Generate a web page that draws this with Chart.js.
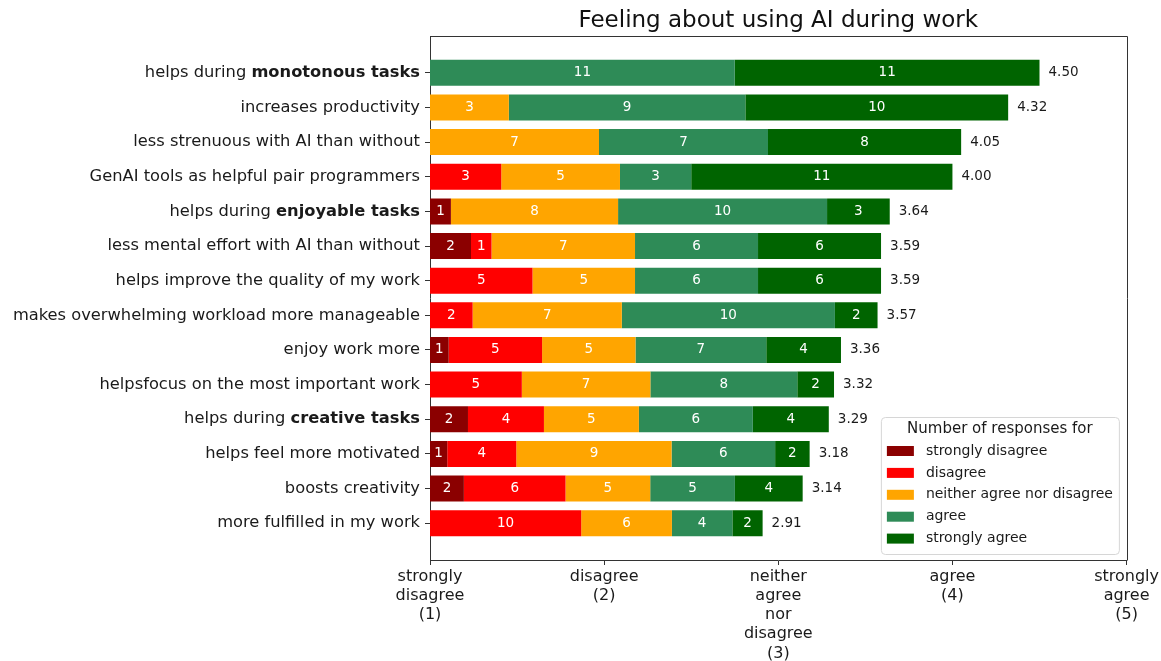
<!DOCTYPE html>
<html><head><meta charset="utf-8">
<script src="https://cdn.jsdelivr.net/npm/chart.js@4"></script>
<style>html,body{margin:0;padding:0;background:#fff}#wrap{width:1161px;height:661px}</style>
</head><body><div id="wrap"><canvas id="c" width="1161" height="661"></canvas></div>
<script>
const categories = [
  "helps during **monotonous tasks**",
  "increases productivity",
  "less strenuous with AI than without",
  "GenAI tools as helpful pair programmers",
  "helps during **enjoyable tasks**",
  "less mental effort with AI than without",
  "helps improve the quality of my work",
  "makes overwhelming workload more manageable",
  "enjoy work more",
  "helpsfocus on the most important work",
  "helps during **creative tasks**",
  "helps feel more motivated",
  "boosts creativity",
  "more fulfilled in my work"
];
const responseLevels = ["strongly disagree", "disagree", "neither agree nor disagree", "agree", "strongly agree"];
const stronglyDisagree = [0, 0, 0, 0, 1, 2, 0, 0, 1, 0, 2, 1, 2, 0];
const disagree         = [0, 0, 0, 3, 0, 1, 5, 2, 5, 5, 4, 4, 6, 10];
const neither          = [0, 3, 7, 5, 8, 7, 5, 7, 5, 7, 5, 9, 5, 6];
const agree            = [11, 9, 7, 3, 10, 6, 6, 10, 7, 8, 6, 6, 5, 4];
const stronglyAgree    = [11, 10, 8, 11, 3, 6, 6, 2, 4, 2, 4, 2, 4, 2];
const meanScores = [4.50, 4.32, 4.05, 4.00, 3.64, 3.59, 3.59, 3.57, 3.36, 3.32, 3.29, 3.18, 3.14, 2.91];
const xTickLabels = [
  ["strongly", "disagree", "(1)"],
  ["disagree", "(2)"],
  ["neither", "agree", "nor", "disagree", "(3)"],
  ["agree", "(4)"],
  ["strongly", "agree", "(5)"]
];
const chartTitle = "Feeling about using AI during work";
const legendTitle = "Number of responses for";
const colors = ["#8b0000", "#ff0000", "#ffa500", "#2e8b57", "#006400"];

const FONT = "'DejaVu Sans', sans-serif";
const counts = [stronglyDisagree, disagree, neither, agree, stronglyAgree];
const totals = categories.map((_, i) => counts.reduce((s, a) => s + a[i], 0));

const datasets = counts.map((arr, k) => {
  const data = [];
  arr.forEach((c, i) => {
    if (!c) return;
    const before = counts.slice(0, k).reduce((s, a) => s + a[i], 0);
    const span = meanScores[i] - 1;
    data.push({ y: i, x: [1 + before / totals[i] * span, 1 + (before + c) / totals[i] * span], n: c });
  });
  return { label: responseLevels[k], backgroundColor: colors[k], borderWidth: 0, data };
});

const customDraw = {
  id: 'customDraw',
  afterDatasetsDraw(chart) {
    const ctx = chart.ctx;
    const xS = chart.scales.x, yS = chart.scales.y;
    ctx.save();
    ctx.font = "13.5px " + FONT;
    ctx.textAlign = 'center';
    ctx.textBaseline = 'middle';
    ctx.fillStyle = '#ffffff';
    chart.data.datasets.forEach((ds, k) => {
      const meta = chart.getDatasetMeta(k);
      meta.data.forEach((el, j) => {
        ctx.fillText(String(ds.data[j].n), (el.x + el.base) / 2, el.y);
      });
    });
    ctx.fillStyle = '#1a1a1a';
    ctx.textAlign = 'left';
    meanScores.forEach((m, i) => {
      ctx.fillText(m.toFixed(2), xS.getPixelForValue(m) + 9, yS.getPixelForValue(i));
    });
    ctx.restore();
  },
  afterDraw(chart) {
    const ctx = chart.ctx;
    const ca = chart.chartArea;
    const yS = chart.scales.y;
    ctx.save();
    ctx.strokeStyle = '#333';
    ctx.lineWidth = 1;
    ctx.beginPath();
    ctx.moveTo(Math.round(ca.left) + 0.5, Math.round(ca.top) + 0.5);
    ctx.lineTo(Math.round(ca.right) + 0.5, Math.round(ca.top) + 0.5);
    ctx.lineTo(Math.round(ca.right) + 0.5, Math.round(ca.bottom) + 0.5);
    ctx.stroke();
    ctx.fillStyle = '#1a1a1a';
    ctx.textAlign = 'left';
    ctx.textBaseline = 'middle';
    const LF = '16.3px ' + FONT;
    categories.forEach((lab, i) => {
      const parts = lab.split('**').map((t, idx) => ({ t, b: idx % 2 === 1 })).filter(p => p.t);
      let total = 0;
      parts.forEach(p => { ctx.font = (p.b ? 'bold ' : '') + LF; p.w = ctx.measureText(p.t).width; total += p.w; });
      let x = ca.left - 10 - total;
      const y = yS.getPixelForValue(i);
      parts.forEach(p => { ctx.font = (p.b ? 'bold ' : '') + LF; ctx.fillText(p.t, x, y); x += p.w; });
    });
    ctx.font = '14px ' + FONT;
    let maxW = 0;
    responseLevels.forEach(l => { maxW = Math.max(maxW, ctx.measureText(l).width); });
    ctx.font = '15px ' + FONT;
    maxW = Math.max(maxW, ctx.measureText(legendTitle).width - 40);
    const w = 45 + maxW + 6, h = 137;
    const right = ca.right - 7.7, bottom = ca.bottom - 6;
    const left = right - w, top = bottom - h;
    ctx.beginPath();
    if (ctx.roundRect) ctx.roundRect(left + 0.5, top + 0.5, w, h, 4); else ctx.rect(left + 0.5, top + 0.5, w, h);
    ctx.fillStyle = 'rgba(255,255,255,0.85)';
    ctx.fill();
    ctx.strokeStyle = '#d6d6d6';
    ctx.stroke();
    ctx.fillStyle = '#1a1a1a';
    ctx.textAlign = 'center';
    ctx.font = '15px ' + FONT;
    ctx.fillText(legendTitle, left + w / 2, top + 12);
    ctx.textAlign = 'left';
    ctx.font = '14px ' + FONT;
    responseLevels.forEach((l, i) => {
      const cy = top + 34 + i * 21.9;
      ctx.fillStyle = colors[i];
      ctx.fillRect(left + 6, cy - 5, 27, 10);
      ctx.fillStyle = '#1a1a1a';
      ctx.fillText(l, left + 45, cy);
    });
    ctx.restore();
  }
};

new Chart(document.getElementById('c'), {
  type: 'bar',
  data: { datasets },
  options: {
    indexAxis: 'y',
    responsive: false,
    animation: false,
    layout: { padding: { left: 0, right: 34, top: 0, bottom: 0 } },
    datasets: { bar: { grouped: false, categoryPercentage: 0.75, barPercentage: 1 } },
    plugins: {
      legend: { display: false },
      tooltip: { enabled: false },
      title: {
        display: true, text: chartTitle, fullSize: false,
        font: { family: FONT, size: 23, weight: 'normal' }, color: '#111',
        padding: { top: 7.5, bottom: 0.9 }
      }
    },
    scales: {
      x: {
        type: 'linear', min: 1, max: 5, position: 'bottom', offset: false,
        afterBuildTicks: s => { s.ticks = xTickLabels.map((_, i) => ({ value: i + 1 })); },
        ticks: {
          callback: (v, idx) => xTickLabels[idx],
          font: { family: FONT, size: 16 }, color: '#1a1a1a', padding: 2,
          maxRotation: 0, minRotation: 0, autoSkip: false
        },
        grid: { offset: false, drawOnChartArea: false, drawTicks: true, tickLength: 5, color: '#333', lineWidth: 1 },
        border: { display: true, color: '#333', width: 1 },
        afterFit: s => { s.height = 101; }
      },
      y: {
        type: 'linear', reverse: true, min: -1.0625, max: 14.0625, offset: false,
        afterBuildTicks: s => { s.ticks = categories.map((_, i) => ({ value: i })); },
        ticks: { display: true, color: 'rgba(0,0,0,0)', callback: () => '', autoSkip: false },
        grid: { offset: false, drawOnChartArea: false, drawTicks: true, tickLength: 5, color: '#333', lineWidth: 1 },
        border: { display: true, color: '#333', width: 1 },
        afterFit: s => { s.width = 430; }
      }
    }
  },
  plugins: [customDraw]
});
</script>
</body></html>
